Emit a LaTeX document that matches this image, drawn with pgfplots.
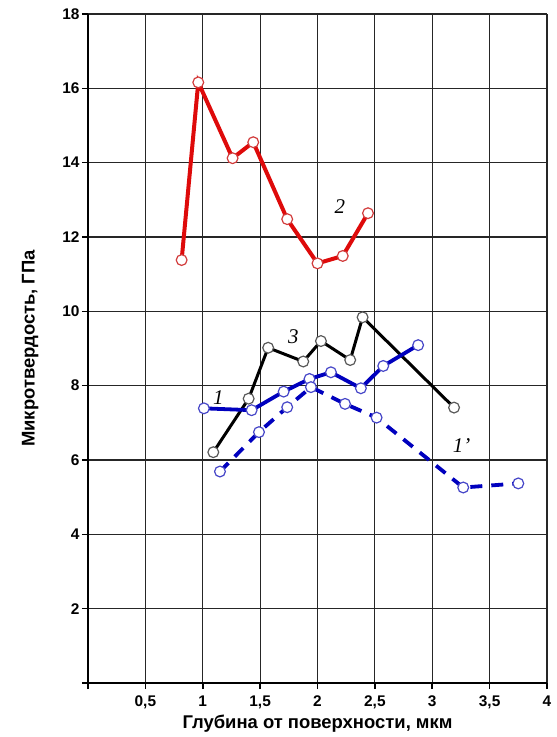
\documentclass[border=0pt]{standalone}
\usepackage{pgfplots}
\pgfplotsset{compat=1.18}
\usepackage{fontspec}
\setmainfont{Liberation Sans}
\newfontfamily\tnr{Liberation Serif}
\definecolor{cred}{RGB}{222,10,10}
\definecolor{cblue}{RGB}{0,0,190}
\definecolor{credge}{RGB}{210,60,60}
\definecolor{cbedge}{RGB}{70,70,200}
\begin{document}
\begin{tikzpicture}[x=1bp,y=1bp]
\path[use as bounding box] (-88,-54) rectangle (469,683);
\begin{axis}[
  scale only axis, width=459bp, height=669bp,
  xmin=0, xmax=4, ymin=0, ymax=18,
  xtick={0,0.5,1,1.5,2,2.5,3,3.5,4},
  xticklabels={{},{0,5},1,{1,5},2,{2,5},3,{3,5},4},
  ytick={0,2,4,6,8,10,12,14,16,18},
  yticklabels={{},2,4,6,8,10,12,14,16,18},
  axis x line*=bottom, axis y line*=left,
  axis line style={line width=2.4bp,-},
  tick align=outside, major tick length=6bp,
  tick style={line width=1.6bp,black},
  grid=major, major grid style={black!85,line width=1.2bp},
  ticklabel style={font=\bfseries\fontsize{15.5}{17}\selectfont},
  yticklabel style={anchor=east, xshift=1bp},
  xticklabel style={yshift=-3bp},
  xlabel={\bfseries Глубина от поверхности, мкм},
  ylabel={\bfseries Микротвердость, ГПа},
  label style={font=\bfseries\fontsize{18.5}{21}\selectfont},
  xlabel style={yshift=1bp},
  ylabel style={yshift=17bp},
  clip=false,
]
% curve 2 (red)
\addplot[cred, line width=4bp, mark=*, mark size=5.4bp,
  mark options={fill=white, draw=credge, line width=1.2bp, solid}]
  coordinates {(0.816,11.38) (0.961,16.16) (1.26,14.12) (1.44,14.55) (1.736,12.48) (2.0,11.29) (2.22,11.49) (2.44,12.64)};
% curve 3 (black)
\addplot[black, line width=3bp, mark=*, mark size=5.4bp,
  mark options={fill=white, draw=black!65, line width=1.2bp, solid}]
  coordinates {(1.092,6.21) (1.40,7.65) (1.57,9.02) (1.876,8.65) (2.03,9.2) (2.285,8.69) (2.393,9.84) (3.19,7.41)};
% curve 1 (blue solid)
\addplot[cblue, line width=3.8bp, mark=*, mark size=5.4bp,
  mark options={fill=white, draw=cbedge, line width=1.2bp, solid}]
  coordinates {(1.01,7.39) (1.426,7.34) (1.705,7.84) (1.93,8.18) (2.117,8.36) (2.378,7.93) (2.573,8.53) (2.877,9.09)};
% curve 1' (blue dashed)
\addplot[cblue, line width=3.8bp, dash pattern=on 12bp off 9bp, mark=*, mark size=5.4bp,
  mark options={fill=white, draw=cbedge, line width=1.2bp, solid}]
  coordinates {(1.15,5.69) (1.49,6.75) (1.736,7.42) (1.943,7.96) (2.24,7.51) (2.515,7.14) (3.27,5.26) (3.75,5.37)};
\node[font=\tnr\itshape\fontsize{21}{21}\selectfont] at (axis cs:2.195,12.81) {2};
\node[font=\tnr\itshape\fontsize{21}{21}\selectfont] at (axis cs:1.79,9.32) {3};
\node[font=\tnr\itshape\fontsize{21}{21}\selectfont] at (axis cs:1.135,7.69) {1};
\node[font=\tnr\itshape\fontsize{21}{21}\selectfont] at (axis cs:3.255,6.38) {1’};
\end{axis}
\end{tikzpicture}
\end{document}
